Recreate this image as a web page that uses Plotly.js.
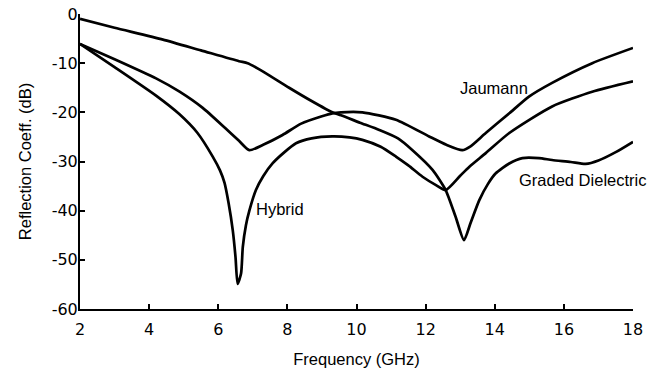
<!DOCTYPE html>
<html>
<head>
<meta charset="utf-8">
<script src="https://cdn.plot.ly/plotly-3.0.1.min.js"></script>
<style>html,body{margin:0;padding:0;background:#fff;}#chart{width:660px;height:371px;}</style>
</head>
<body>
<div id="chart"></div>
<script>
// Frequency (GHz) / reflection coefficient (dB)
const gradedFreq = [2, 3, 4.4, 5.5, 6.6, 6.85, 7.2, 8.05, 8.7, 9.3, 9.55, 10.1, 10.66, 11.2, 11.62, 12.2, 12.58, 12.87, 13.11, 13.3, 13.55, 13.8, 14.03, 14.42, 14.8, 15.28, 15.66, 16.2, 16.63, 17.0, 17.5, 18];
const gradedRefl = [-1.0, -2.8, -5.2, -7.4, -9.6, -10.0, -11.3, -15.0, -17.7, -20.0, -20.6, -22.1, -23.6, -25.3, -27.7, -31.7, -35.8, -41.3, -46.0, -42.5, -37.9, -34.6, -32.4, -30.4, -29.3, -29.3, -29.7, -30.1, -30.5, -29.8, -28.1, -26.0];

const jaumannFreq = [2, 3, 4.2, 4.88, 5.55, 6.2, 6.6, 6.9, 7.3, 7.86, 8.4, 9.0, 9.3, 9.55, 10.17, 11.14, 12.1, 12.6, 13.06, 13.3, 13.74, 14.42, 14.99, 15.66, 16.82, 18];
const jaumannRefl = [-6.1, -9.2, -13.1, -15.8, -19.1, -23.2, -25.8, -27.7, -26.6, -24.6, -22.3, -20.8, -20.2, -20.0, -20.0, -21.5, -24.9, -26.6, -27.7, -26.9, -24.2, -20.2, -16.8, -14.0, -10.0, -6.9];

const hybridFreq = [2, 3, 4.2, 4.88, 5.4, 5.84, 6.05, 6.18, 6.3, 6.42, 6.5, 6.56, 6.66, 6.71, 6.8, 6.9, 7.09, 7.3, 7.57, 7.9, 8.25, 8.7, 9.3, 9.8, 10.17, 10.7, 11.14, 11.5, 11.91, 12.3, 12.58, 13.0, 13.26, 13.74, 14.42, 15.66, 16.82, 18];
const hybridRefl = [-6.1, -10.8, -16.6, -20.4, -24.2, -29.0, -31.8, -34.3, -38.5, -44.0, -49.5, -54.9, -52.8, -47.4, -43.0, -40.0, -35.8, -33.0, -30.4, -28.2, -26.3, -25.3, -24.9, -25.1, -25.6, -27.0, -29.0, -30.8, -33.1, -34.8, -35.8, -32.9, -31.1, -28.3, -24.2, -18.8, -15.8, -13.7];

const xTicks = [2, 4, 6, 8, 10, 12, 14, 16, 18];
const yTicks = [0, -10, -20, -30, -40, -50, -60];

const labels = ["Jaumann", "Hybrid", "Graded Dielectric"];
const labelX = [13.98, 7.78, 16.54];
const labelY = [-15.0, -39.7, -33.8];

const lineStyle = {color: "#000", width: 2.7, shape: "spline", smoothing: 0.6};
const traces = [
  {x: gradedFreq, y: gradedRefl, name: "Graded Dielectric", mode: "lines", line: lineStyle},
  {x: jaumannFreq, y: jaumannRefl, name: "Jaumann", mode: "lines", line: lineStyle},
  {x: hybridFreq, y: hybridRefl, name: "Hybrid", mode: "lines", line: lineStyle}
];

const tickFont = {family: "DejaVu Sans", size: 16, color: "#000"};
const textFont = {family: "Liberation Sans, Arial, sans-serif", size: 16.5, color: "#000"};

const layout = {
  width: 660, height: 371,
  margin: {l: 80, r: 27, t: 14, b: 62, pad: 0},
  paper_bgcolor: "#fff", plot_bgcolor: "#fff",
  showlegend: false,
  xaxis: {
    range: [2, 18], tickvals: xTicks, ticktext: xTicks.map(String),
    showgrid: false, zeroline: false, showline: true, linecolor: "#000", linewidth: 2,
    ticks: "inside", ticklen: 5, tickwidth: 2, tickcolor: "#000",
    tickfont: tickFont, ticklabelstandoff: 5,
    title: {text: "Frequency (GHz)", font: textFont, standoff: 15}
  },
  yaxis: {
    range: [-60, 0], tickvals: yTicks, ticktext: yTicks.map(String),
    showgrid: false, zeroline: false, showline: true, linecolor: "#000", linewidth: 2,
    ticks: "inside", ticklen: 5, tickwidth: 2, tickcolor: "#000",
    tickfont: tickFont, ticklabelstandoff: -3,
    title: {text: "Reflection Coeff. (dB)", font: textFont, standoff: 16}
  },
  annotations: labels.map((t, i) => ({
    text: t, x: labelX[i], y: labelY[i], xref: "x", yref: "y",
    showarrow: false, font: textFont, xanchor: "center", yanchor: "middle"
  }))
};

Plotly.newPlot("chart", traces, layout, {staticPlot: true, displayModeBar: false});
</script>
</body>
</html>
